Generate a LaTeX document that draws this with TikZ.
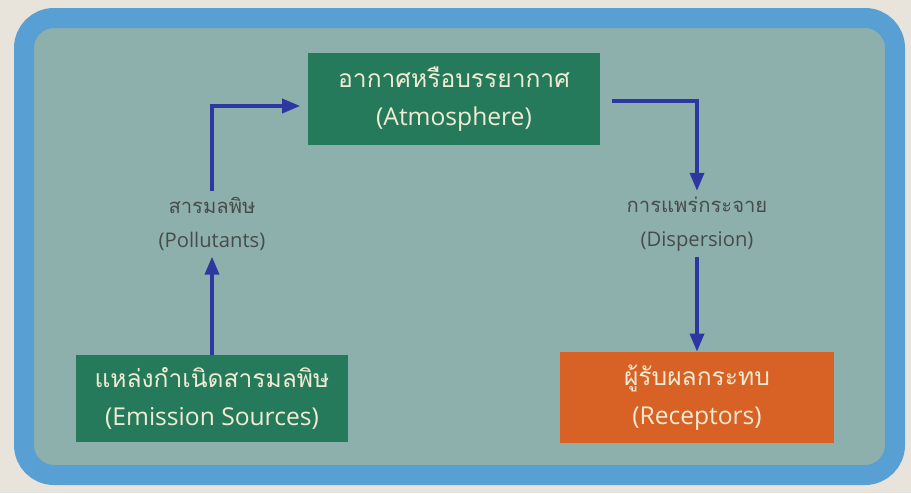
\documentclass[tikz,border=0pt]{standalone}
\usepackage{fontspec}
\setmainfont{Open Sans}
\newfontfamily\thaifont[Script=Thai]{Loma}
\usetikzlibrary{arrows.meta}

\definecolor{paper}{RGB}{232,228,220}
\definecolor{frameblue}{RGB}{88,160,212}
\definecolor{panel}{RGB}{142,176,172}
\definecolor{boxgreen}{RGB}{38,122,92}
\definecolor{boxorange}{RGB}{216,98,38}
\definecolor{boxtext}{RGB}{240,236,212}
\definecolor{lbltext}{RGB}{70,76,76}
\definecolor{flowblue}{RGB}{45,55,160}

\tikzset{
  box/.style={align=center, text=boxtext, inner sep=0pt,
    font=\fontsize{14}{22}\selectfont},
  lbl/.style={align=center, text=lbltext, font=\fontsize{11.5}{19}\selectfont},
  flow/.style={->, draw=flowblue, line width=2pt}
}

\begin{document}
\begin{tikzpicture}[>={Triangle[length=3.6mm, width=2.8mm]}]
    \useasboundingbox[fill=paper] (0,0) rectangle (18.22,9.86);
    \draw[line width=0.4cm, draw=frameblue, fill=panel, rounded corners=0.6cm]
      (0.48,0.36) rectangle (17.9,9.5);

    \coordinate (A) at (9.08,7.88);
    \coordinate (S) at (4.24,1.89);
    \coordinate (R) at (13.94,1.91);
    \coordinate (P) at (4.24,5.38);
    \coordinate (D) at (13.94,5.38);

    \node[box, fill=boxgreen, minimum width=5.84cm, minimum height=1.84cm] (atm) at (A)
      {{\thaifont อากาศหรือบรรยากาศ}\\(Atmosphere)};
    \node[box, fill=boxgreen, minimum width=5.44cm, minimum height=1.74cm] (src) at (S)
      {{\thaifont แหล่งกำเนิดสารมลพิษ}\\(Emission Sources)};
    \node[box, fill=boxorange, minimum width=5.48cm, minimum height=1.82cm] (rec) at (R)
      {{\thaifont ผู้รับผลกระทบ}\\(Receptors)};
    \node[lbl] (pol) at (P) {{\thaifont สารมลพิษ}\\(Pollutants)};
    \node[lbl] (dis) at (D) {{\thaifont การแพร่กระจาย}\\(Dispersion)};

    \draw[flow] (src.north) -- (pol.south);
    \draw[flow, shorten >=0.15cm] (pol.north) |- ([yshift=-0.14cm]atm.west);
    \draw[flow, shorten <=0.24cm] ([yshift=-0.04cm]atm.east) -| (dis.north);
    \draw[flow] (dis.south) -- (rec.north);
\end{tikzpicture}
\end{document}
